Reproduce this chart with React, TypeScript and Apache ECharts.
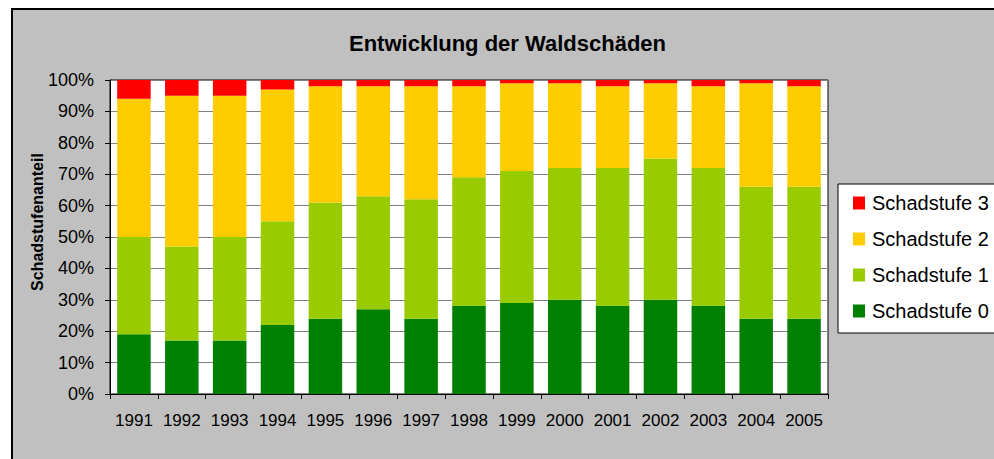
import React, { useEffect, useRef } from "react";
import * as echarts from "echarts";

const years = ["1991", "1992", "1993", "1994", "1995", "1996", "1997", "1998", "1999", "2000", "2001", "2002", "2003", "2004", "2005"];
const stufe0 = [19, 17, 17, 22, 24, 27, 24, 28, 29, 30, 28, 30, 28, 24, 24];
const stufe1 = [31, 30, 33, 33, 37, 36, 38, 41, 42, 42, 44, 45, 44, 42, 42];
const stufe2 = [44, 48, 45, 42, 37, 35, 36, 29, 28, 27, 26, 24, 26, 33, 32];
const stufe3 = [6, 5, 5, 3, 2, 2, 2, 2, 1, 1, 2, 1, 2, 1, 2];
const yTicks = [0, 100, 10];

const FONT = "Arial, 'Liberation Sans', sans-serif";

export default function App() {
  const ref = useRef<HTMLDivElement>(null);
  useEffect(() => {
    if (!ref.current) return;
    const chart = echarts.init(ref.current, undefined, { renderer: "svg" });
    const mk = (name: string, data: number[], color: string) => ({
      name,
      type: "bar",
      stack: "total",
      data,
      barCategoryGap: "30%",
      itemStyle: { color },
    });
    chart.setOption({
      animation: false,
      backgroundColor: "#ffffff",
      title: {
        text: "Entwicklung der Waldschäden",
        left: 349,
        top: 32,
        padding: 0,
        textStyle: { fontFamily: FONT, fontSize: 22, fontWeight: "bold", color: "#000" },
      },
      graphic: [
        {
          type: "rect",
          z: -100,
          shape: { x: 12, y: 9, width: 1200, height: 700 },
          style: { fill: "#c0c0c0", stroke: "#000", lineWidth: 2 },
        },
        {
          type: "text",
          x: 37,
          y: 222,
          rotation: Math.PI / 2,
          style: {
            text: "Schadstufenanteil",
            fontFamily: FONT,
            fontSize: 16,
            fontWeight: "bold",
            fill: "#000",
            align: "center",
            verticalAlign: "middle",
          },
        },
      ],
      legend: {
        orient: "vertical",
        left: 838,
        top: 184,
        padding: [9, 40, 12, 15],
        backgroundColor: "#fff",
        borderColor: "#000",
        borderWidth: 1,
        borderRadius: 0,
        itemWidth: 12,
        itemHeight: 13,
        itemGap: 16,
        icon: "rect",
        data: ["Schadstufe 3", "Schadstufe 2", "Schadstufe 1", "Schadstufe 0"],
        textStyle: { fontFamily: FONT, fontSize: 20, color: "#000", padding: [0, 0, 0, 2] },
      },
      grid: {
        left: 110,
        top: 80,
        width: 718,
        height: 314,
        show: true,
        backgroundColor: "#fff",
        borderColor: "#000",
        borderWidth: 1,
      },
      xAxis: {
        type: "category",
        data: years,
        boundaryGap: true,
        axisLine: { lineStyle: { color: "#000", width: 1 } },
        axisTick: { show: true, length: 5, lineStyle: { color: "#000" } },
        axisLabel: { fontFamily: FONT, fontSize: 17, color: "#000", margin: 18, interval: 0 },
        splitLine: { show: false },
      },
      yAxis: {
        type: "value",
        min: yTicks[0],
        max: yTicks[1],
        interval: yTicks[2],
        axisLine: { show: true, lineStyle: { color: "#000", width: 1 } },
        axisTick: { show: true, length: 5, lineStyle: { color: "#000" } },
        axisLabel: { fontFamily: FONT, fontSize: 18, color: "#000", margin: 16, formatter: "{value}%" },
        splitLine: { show: true, lineStyle: { color: "#808080", width: 1 } },
      },
      series: [
        mk("Schadstufe 0", stufe0, "#008000"),
        mk("Schadstufe 1", stufe1, "#99cc00"),
        mk("Schadstufe 2", stufe2, "#ffcc00"),
        mk("Schadstufe 3", stufe3, "#ff0000"),
      ],
    });
    return () => chart.dispose();
  }, []);
  return (
    <div
      ref={ref}
      style={{ position: "fixed", left: 0, top: 0, width: 994, height: 459 }}
    />
  );
}
